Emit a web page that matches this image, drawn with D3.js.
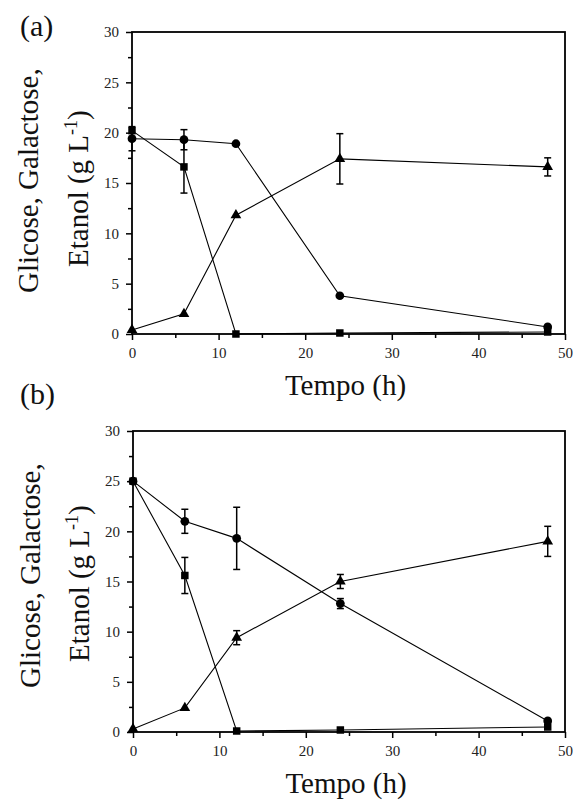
<!DOCTYPE html>
<html>
<head>
<meta charset="utf-8">
<script src="https://cdn.jsdelivr.net/npm/d3@7"></script>
<style>
  body { margin: 0; background: #fff; }
  svg { display: block; }
  .lbl { font-family: "Liberation Serif", "DejaVu Serif", serif; font-size: 29px; fill: #111; }
</style>
</head>
<body>
<svg id="chart" width="573" height="804"></svg>
<script>
// sampling times (h)
var timeH = [0, 6, 12, 24, 48];

// panel (a)
var glicoseA = [20.2, 16.6, 0.0, 0.1, 0.2];
var glicoseAErr = [0, 2.6, 0, 0, 0];
var galactoseA = [19.4, 19.3, 18.9, 3.8, 0.7];
var galactoseAErr = [1.2, 1.0, 0, 0, 0];
var etanolA = [0.4, 2.0, 11.8, 17.4, 16.6];
var etanolAErr = [0, 0, 0, 2.5, 0.9];

// panel (b)
var glicoseB = [25.0, 15.6, 0.1, 0.2, 0.5];
var glicoseBErr = [0, 1.8, 0, 0, 0];
var galactoseB = [25.0, 21.0, 19.3, 12.8, 1.1];
var galactoseBErr = [0, 1.2, 3.1, 0.5, 0];
var etanolB = [0.3, 2.4, 9.4, 15.0, 19.0];
var etanolBErr = [0, 0, 0.7, 0.7, 1.5];

var xTicks = [0, 10, 20, 30, 40, 50];
var yTicks = [0, 5, 10, 15, 20, 25, 30];

var svg = d3.select("#chart");

var panels = [
  { tag: "(a)", left: 132, right: 565, top: 32, bottom: 334, tagY: 36,
    series: [
      { v: glicoseA, e: glicoseAErr, shape: d3.symbolSquare, size: 56 },
      { v: galactoseA, e: galactoseAErr, shape: d3.symbolCircle, size: 60 },
      { v: etanolA, e: etanolAErr, shape: d3.symbolTriangle, size: 50 }
    ],
    lab1: [38, 293], lab2: [88, 267] },
  { tag: "(b)", left: 133, right: 565, top: 431, bottom: 732, tagY: 404,
    series: [
      { v: glicoseB, e: glicoseBErr, shape: d3.symbolSquare, size: 56 },
      { v: galactoseB, e: galactoseBErr, shape: d3.symbolCircle, size: 60 },
      { v: etanolB, e: etanolBErr, shape: d3.symbolTriangle, size: 50 }
    ],
    lab1: [40, 688], lab2: [89, 662] }
];

panels.forEach(drawPanel);

function styleAxis(sel) {
  sel.select(".domain").remove();
  sel.selectAll("line").attr("stroke-width", 1.5);
  sel.selectAll("text")
    .attr("font-family", "Liberation Serif, DejaVu Serif, serif")
    .attr("font-size", 15)
    .attr("fill", "#222");
}

function drawPanel(p) {
  var x = d3.scaleLinear().domain([0, 50]).range([p.left, p.right]);
  var y = d3.scaleLinear().domain([0, 30]).range([p.bottom, p.top]);
  var g = svg.append("g");

  // minor ticks
  g.append("g")
    .attr("transform", "translate(0," + p.bottom + ")")
    .call(d3.axisBottom(x).tickValues(d3.range(5, 50, 10)).tickSize(4).tickFormat(""))
    .call(styleAxis);
  g.append("g")
    .attr("transform", "translate(" + p.left + ",0)")
    .call(d3.axisLeft(y).tickValues(d3.range(2.5, 30, 5)).tickSize(4).tickFormat(""))
    .call(styleAxis);

  // major ticks + labels
  g.append("g")
    .attr("transform", "translate(0," + p.bottom + ")")
    .call(d3.axisBottom(x).tickValues(xTicks).tickSize(6).tickPadding(7).tickSizeOuter(0))
    .call(styleAxis);
  g.append("g")
    .attr("transform", "translate(" + p.left + ",0)")
    .call(d3.axisLeft(y).tickValues(yTicks).tickSize(6).tickPadding(7).tickSizeOuter(0))
    .call(styleAxis);

  // frame
  g.append("rect")
    .attr("x", p.left).attr("y", p.top)
    .attr("width", p.right - p.left).attr("height", p.bottom - p.top)
    .attr("fill", "none").attr("stroke", "#000").attr("stroke-width", 1.8);

  var line = d3.line().x((d, i) => x(timeH[i])).y(d => y(d));

  p.series.forEach(s => {
    g.append("path")
      .datum(s.v)
      .attr("d", line)
      .attr("fill", "none")
      .attr("stroke", "#000")
      .attr("stroke-width", 1.1);
  });

  p.series.forEach(s => {
    var eb = g.selectAll(null)
      .data(s.v.map((d, i) => ({ t: timeH[i], v: d, e: s.e[i] })).filter(d => d.e > 0))
      .enter().append("g")
      .attr("stroke", "#000").attr("stroke-width", 1.5);
    eb.append("line")
      .attr("x1", d => x(d.t)).attr("x2", d => x(d.t))
      .attr("y1", d => y(d.v - d.e)).attr("y2", d => y(d.v + d.e));
    eb.append("line")
      .attr("x1", d => x(d.t) - 3.5).attr("x2", d => x(d.t) + 3.5)
      .attr("y1", d => y(d.v - d.e)).attr("y2", d => y(d.v - d.e));
    eb.append("line")
      .attr("x1", d => x(d.t) - 3.5).attr("x2", d => x(d.t) + 3.5)
      .attr("y1", d => y(d.v + d.e)).attr("y2", d => y(d.v + d.e));

    g.selectAll(null)
      .data(s.v)
      .enter().append("path")
      .attr("d", d3.symbol().type(s.shape).size(s.size))
      .attr("transform", (d, i) => "translate(" + x(timeH[i]) + "," + y(d) + ")")
      .attr("fill", "#000");
  });

  // labels
  svg.append("text").attr("class", "lbl")
    .attr("x", 20).attr("y", p.tagY).style("font-size", "30px")
    .text(p.tag);

  svg.append("text").attr("class", "lbl")
    .attr("x", (p.left + p.right) / 2 - 3).attr("y", p.bottom + 61)
    .attr("text-anchor", "middle")
    .text("Tempo (h)");

  svg.append("text").attr("class", "lbl")
    .attr("transform", "translate(" + p.lab1[0] + "," + p.lab1[1] + ") rotate(-90)")
    .text("Glicose, Galactose,");

  var t2 = svg.append("text").attr("class", "lbl")
    .attr("transform", "translate(" + p.lab2[0] + "," + p.lab2[1] + ") rotate(-90)");
  t2.append("tspan").text("Etanol (g L");
  t2.append("tspan").attr("dy", -11).style("font-size", "18px").text("-1");
  t2.append("tspan").attr("dy", 11).text(")");
}
</script>
</body>
</html>
